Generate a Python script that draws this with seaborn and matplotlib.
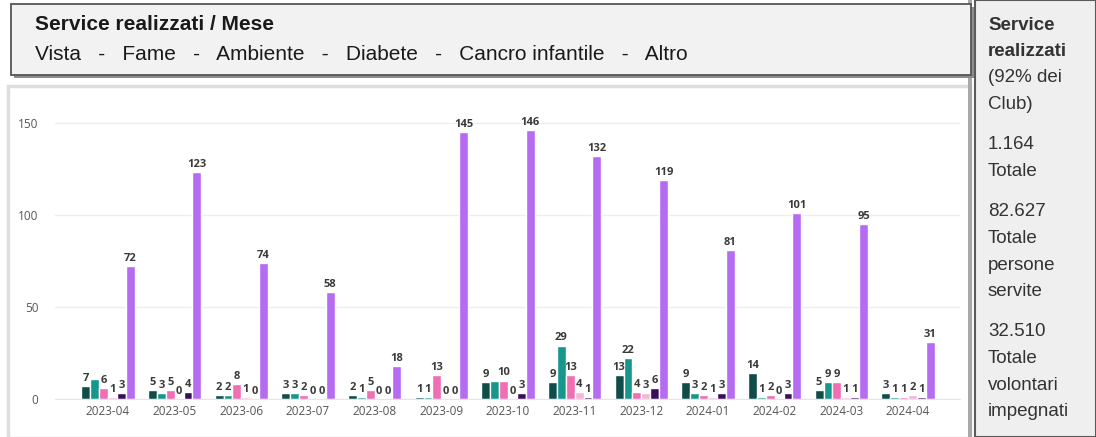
import pandas as pd
import numpy as np
import matplotlib.pyplot as plt
import seaborn as sns
from matplotlib.patches import Rectangle

# Dati
mesi = ['2023-04', '2023-05', '2023-06', '2023-07', '2023-08', '2023-09', '2023-10',
        '2023-11', '2023-12', '2024-01', '2024-02', '2024-03', '2024-04']
vista = [7, 5, 2, 3, 2, 1, 9, 9, 13, 9, 14, 5, 3]
fame = [11, 3, 2, 3, 1, 1, 10, 29, 22, 3, 1, 9, 1]
ambiente = [6, 5, 8, 2, 5, 13, 10, 13, 4, 2, 2, 9, 1]
diabete = [1, 0, 1, 0, 0, 0, 0, 4, 3, 1, 0, 1, 2]
cancro = [3, 4, 0, 0, 0, 0, 3, 1, 6, 3, 3, 1, 1]
altro = [72, 123, 74, 58, 18, 145, 146, 132, 119, 81, 101, 95, 31]

categorie = ['Vista', 'Fame', 'Ambiente', 'Diabete', 'Cancro infantile', 'Altro']
colori = ['#0f4c4a', '#16968c', '#f06eb4', '#f5b6d6', '#3a0c5c', '#b56cf2']

# etichette che nel grafico originale non compaiono (sovrapposte)
nascoste = [('2023-04', 'Fame'), ('2023-10', 'Fame')]

# testo del pannello a destra: (righe, grassetto)
pannello = [(['Service', 'realizzati'], True),
            (['(92% dei', 'Club)'], False),
            (['1.164', 'Totale'], False),
            (['82.627', 'Totale', 'persone', 'servite'], False),
            (['32.510', 'Totale', 'volontari', 'impegnati'], False)]


def px(x, y, w, h, W=1096, H=437):
    # pixel (dall'alto) -> coordinate figura
    return (x / W, 1 - (y + h) / H, w / W, h / H)


def rett(fig, box, **kw):
    x, y, w, h = px(*box)
    fig.patches.append(Rectangle((x, y), w, h, transform=fig.transFigure, **kw))


def main():
    sns.set_theme(style='white')
    plt.rcParams['font.family'] = ['Liberation Sans', 'DejaVu Sans']

    serie = [vista, fame, ambiente, diabete, cancro, altro]
    rows = []
    for cat, vals in zip(categorie, serie):
        for m, v in zip(mesi, vals):
            rows.append({'Mese': m, 'Categoria': cat, 'Service': v})
    df = pd.DataFrame(rows)

    fig = plt.figure(figsize=(10.96, 4.37), dpi=100)
    fig.patch.set_facecolor('white')

    # sfondi
    rett(fig, (8, 86, 962, 352), facecolor='white', edgecolor='#dedede', lw=2.5, zorder=0)
    rett(fig, (968, 0, 4, 437), facecolor='#a8a8a8', edgecolor='none', zorder=0.5)
    rett(fig, (975, 0, 121, 437), facecolor='#efefef', edgecolor='#5a5a5a', lw=1.5, zorder=0.5)

    # box titolo con ombra
    rett(fig, (14, 7, 960, 71), facecolor='#8c8c8c', edgecolor='none', zorder=1)
    rett(fig, (11, 4, 960, 71), facecolor='#f2f2f2', edgecolor='#555555', lw=1.3, zorder=2)
    fig.text(35 / 1096, 1 - 25 / 437, 'Service realizzati / Mese', fontsize=15,
             fontweight='bold', color='#1a1a1a', va='center', ha='left', zorder=3)
    fig.text(35 / 1096, 1 - 55 / 437,
             'Vista   -   Fame   -   Ambiente   -   Diabete   -   Cancro infantile   -   Altro',
             fontsize=15, color='#1a1a1a', va='center', ha='left', zorder=3)

    # testo pannello destro, riga per riga
    ypos = 25
    for i, (righe, bold) in enumerate(pannello):
        if i > 1:
            ypos += 14
        for r in righe:
            fig.text(988 / 1096, 1 - ypos / 437, r, fontsize=13.5,
                     fontweight='bold' if bold else 'normal', color='#333333',
                     va='center', ha='left', zorder=3)
            ypos += 26.5

    ax = fig.add_axes(px(55, 95, 905, 304))
    ax.set_zorder(2.5)
    ax.set_facecolor('none')
    sns.barplot(data=df, x='Mese', y='Service', hue='Categoria', hue_order=categorie,
                palette=colori, width=0.8, saturation=1, ax=ax, legend=False)

    for cat, vals, cont in zip(categorie, serie, ax.containers):
        labs = ['' if (m, cat) in nascoste else str(v) for m, v in zip(mesi, vals)]
        ax.bar_label(cont, labels=labs, fontsize=8, fontweight='bold', color='#3a3a3a',
                     padding=1.5, family=['Open Sans', 'DejaVu Sans'])

    ax.set_xlim(-0.795, len(mesi) - 1 + 0.78)
    ax.set_ylim(0, 165)
    ax.set_yticks([0, 50, 100, 150])
    ax.yaxis.grid(True, color='#eeeeee', lw=0.9)
    ax.set_axisbelow(True)
    ax.tick_params(axis='y', labelsize=8.5, colors='#555555', pad=12, length=0)
    ax.tick_params(axis='x', labelsize=8.5, colors='#555555', pad=4, length=0)
    for lab in ax.get_xticklabels() + ax.get_yticklabels():
        lab.set_family(['Open Sans', 'DejaVu Sans'])
    ax.set_xlabel('')
    ax.set_ylabel('')
    for s in ['top', 'right', 'left']:
        ax.spines[s].set_visible(False)
    ax.spines['bottom'].set_color('#e6e6e6')
    ax.spines['bottom'].set_linewidth(0.8)

    fig.savefig('out.png', dpi=100)
    plt.close(fig)


if __name__ == '__main__':
    main()
